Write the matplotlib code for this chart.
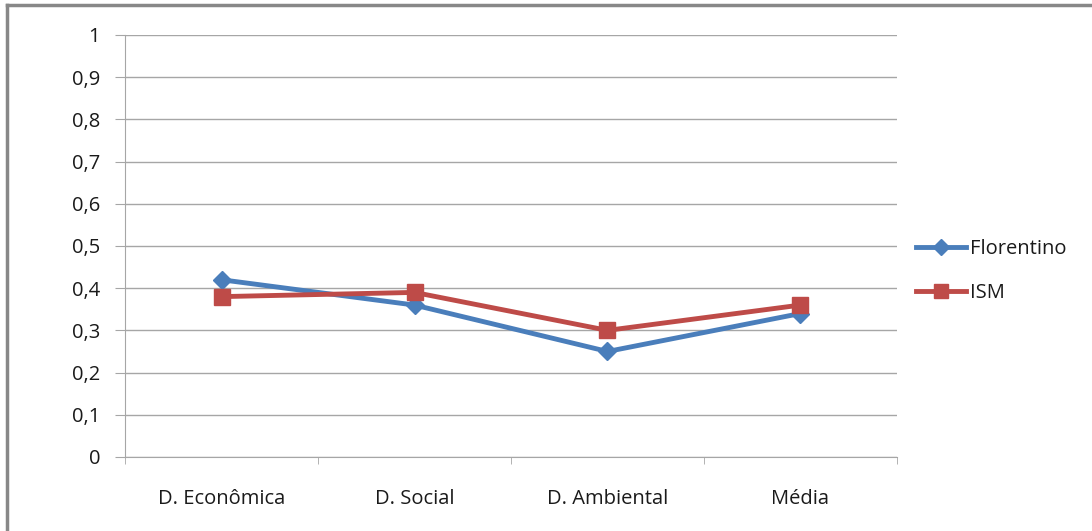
import matplotlib.pyplot as plt
from matplotlib.lines import Line2D

plt.rcParams["font.family"] = ["Open Sans", "DejaVu Sans"]

categories = ["D. Econômica", "D. Social", "D. Ambiental", "Média"]
florentino = [0.42, 0.36, 0.25, 0.34]
ism = [0.38, 0.39, 0.30, 0.36]
yticks = [0, 0.1, 0.2, 0.3, 0.4, 0.5, 0.6, 0.7, 0.8, 0.9, 1]
ytick_labels = ["0", "0,1", "0,2", "0,3", "0,4", "0,5", "0,6", "0,7", "0,8", "0,9", "1"]

blue = "#4a7ebb"
red = "#be4b48"
grid_gray = "#a6a6a6"
text_color = "#1a1a1a"
fs = 14.5

fig = plt.figure(figsize=(10.92, 5.31), dpi=100)
ax = fig.add_axes([0.1145, 0.1394, 0.7069, 0.7947])

x = list(range(len(categories)))
ax.plot(x, florentino, color=blue, lw=3.5, marker="D", ms=9.5, label="Florentino")
ax.plot(x, ism, color=red, lw=3.5, marker="s", ms=11.5, label="ISM")

ax.set_xlim(-0.5, len(categories) - 0.5)
ax.set_ylim(0, 1)
ax.set_yticks(yticks)
ax.set_yticklabels(ytick_labels)
ax.set_xticks(x)
ax.set_xticklabels(categories)
ax.set_xticks([i - 0.5 for i in range(len(categories) + 1)], minor=True)

ax.grid(axis="y", color=grid_gray, lw=1)
ax.set_axisbelow(True)
for side in ["top", "right"]:
    ax.spines[side].set_visible(False)
ax.spines["left"].set_color(grid_gray)
ax.spines["bottom"].set_color(grid_gray)

ax.tick_params(axis="y", length=7, color=grid_gray, labelsize=fs, pad=11,
               labelcolor=text_color)
ax.tick_params(axis="x", which="major", length=0, labelsize=fs, pad=23,
               labelcolor=text_color)
ax.tick_params(axis="x", which="minor", length=5, color=grid_gray)

fig.legend(handles=[
    Line2D([], [], color=blue, lw=3.5, marker="D", ms=8, label="Florentino"),
    Line2D([], [], color=red, lw=3.5, marker="s", ms=10, label="ISM"),
], loc="center left", bbox_to_anchor=(0.822, 0.49), frameon=False,
    fontsize=fs, handlelength=2.5, handletextpad=0.2, labelspacing=1.2,
    labelcolor=text_color)

# outer chart frame (top and left edges)
fig.add_artist(Line2D([0.0064, 1.0], [0.9906, 0.9906], color="#888888", lw=2.5,
                      transform=fig.transFigure))
fig.add_artist(Line2D([0.0064, 0.0064], [0.0, 0.9906], color="#888888", lw=2.5,
                      transform=fig.transFigure))

fig.savefig("out.png", dpi=100)
